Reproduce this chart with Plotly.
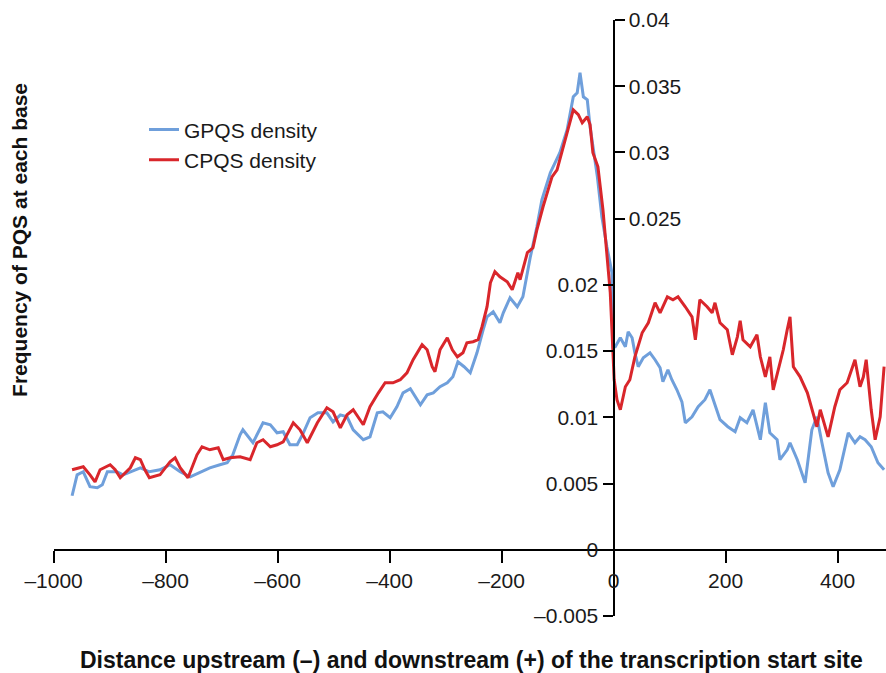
import plotly.graph_objects as go

# GPQS density profile around the transcription start site (bp, frequency)
gpqs_pos = [-967, -958, -947, -935, -922, -913, -904, -887, -876, -863, -845, -829, -810, -792,
            -774, -756, -738, -721, -703, -690, -680, -667, -662, -644, -626, -613, -601, -590,
            -578, -565, -554, -542, -528, -512, -501, -488, -476, -465, -447, -435, -422, -412,
            -399, -387, -376, -363, -345, -333, -322, -310, -297, -287, -278, -267, -256, -244,
            -233, -226, -215, -203, -197, -185, -172, -162, -149, -137, -128, -113, -96, -83,
            -72, -65, -60, -54, -47, -42, -29, -21, -12, -3, -1,
            3, 12, 21, 26, 33, 38, 44, 53, 65, 74, 83, 88, 97, 104, 113, 122, 128, 140, 151,
            163, 172, 181, 190, 204, 217, 226, 238, 249, 262, 271, 279, 292, 297, 310, 315,
            328, 342, 354, 363, 372, 383, 392, 404, 419, 431, 440, 449, 460, 472, 483]
gpqs_freq = [0.00408, 0.00566, 0.00589, 0.00476, 0.00468, 0.00491, 0.00589, 0.00589, 0.00566,
             0.00589, 0.00619, 0.00589, 0.00604, 0.00642, 0.00589, 0.00551, 0.00589, 0.00619,
             0.00642, 0.00657, 0.00717, 0.00868, 0.00906, 0.00808, 0.00959, 0.00944, 0.00883,
             0.00891, 0.00793, 0.00793, 0.00883, 0.00997, 0.01034, 0.01034, 0.00966, 0.01019,
             0.01004, 0.00906, 0.00831, 0.00853, 0.01034, 0.01042, 0.00997, 0.01080, 0.01185,
             0.01216, 0.01095, 0.01170, 0.01185, 0.01231, 0.01261, 0.01306, 0.01419, 0.01382,
             0.01336, 0.01487, 0.01661, 0.01759, 0.01797, 0.01714, 0.01789, 0.01903, 0.01835,
             0.01910, 0.02205, 0.02439, 0.02643, 0.02847, 0.02998, 0.03171, 0.03420, 0.03451,
             0.03602, 0.03420, 0.03398, 0.03194, 0.02816, 0.02514, 0.02288, 0.02092, 0.01533,
             0.01533, 0.01601, 0.01533, 0.01646, 0.01601, 0.01487, 0.01382, 0.01450, 0.01487,
             0.01435, 0.01374, 0.01269, 0.01359, 0.01284, 0.01208, 0.01117, 0.00959, 0.01004,
             0.01080, 0.01133, 0.01208, 0.01095, 0.00982, 0.00929, 0.00891, 0.00997, 0.00959,
             0.01057, 0.00831, 0.01110, 0.00883, 0.00831, 0.00680, 0.00755, 0.00808, 0.00680,
             0.00506, 0.00906, 0.01004, 0.00808, 0.00581, 0.00476, 0.00604, 0.00883, 0.00808,
             0.00853, 0.00831, 0.00778, 0.00657, 0.00604]

# CPQS density profile around the transcription start site (bp, frequency)
cpqs_pos = [-967, -947, -935, -926, -917, -899, -890, -881, -863, -854, -845, -837, -829, -810,
            -792, -783, -774, -760, -744, -735, -721, -706, -697, -685, -667, -649, -637, -626,
            -613, -601, -590, -572, -560, -547, -529, -512, -501, -488, -476, -465, -447, -435,
            -420, -408, -394, -381, -369, -358, -342, -333, -324, -319, -310, -297, -288, -279,
            -269, -262, -251, -242, -235, -226, -220, -212, -203, -190, -181, -171, -167, -154,
            -144, -137, -126, -110, -101, -90, -78, -72, -63, -56, -47, -42, -37, -28, -19, -12,
            -6, -3,
            1, 6, 12, 21, 29, 38, 51, 62, 74, 83, 96, 106, 115, 128, 140, 146, 154, 167, 176,
            181, 190, 203, 212, 221, 226, 231, 244, 256, 262, 271, 279, 285, 294, 303, 310, 315,
            321, 333, 346, 354, 363, 369, 378, 383, 395, 404, 417, 431, 440, 446, 451, 460, 467,
            476, 483]
cpqs_freq = [0.00604, 0.00627, 0.00566, 0.00513, 0.00604, 0.00642, 0.00604, 0.00544, 0.00619,
             0.00695, 0.00680, 0.00604, 0.00544, 0.00566, 0.00665, 0.00695, 0.00619, 0.00544,
             0.00717, 0.00778, 0.00755, 0.00770, 0.00680, 0.00695, 0.00702, 0.00680, 0.00808,
             0.00831, 0.00778, 0.00793, 0.00815, 0.00959, 0.00906, 0.00808, 0.00959, 0.01072,
             0.01042, 0.00921, 0.01019, 0.01057, 0.00944, 0.01080, 0.01185, 0.01261, 0.01261,
             0.01284, 0.01336, 0.01435, 0.01548, 0.01510, 0.01382, 0.01344, 0.01510, 0.01601,
             0.01510, 0.01457, 0.01487, 0.01563, 0.01571, 0.01586, 0.01684, 0.01835, 0.02016,
             0.02099, 0.02061, 0.02024, 0.01963, 0.02092, 0.02039, 0.02243, 0.02280, 0.02416,
             0.02590, 0.02816, 0.02869, 0.03043, 0.03247, 0.03322, 0.03285, 0.03224, 0.03269,
             0.03209, 0.02998, 0.02892, 0.02567, 0.02243, 0.01941, 0.01661,
             0.01284, 0.01133, 0.01057, 0.01231, 0.01284, 0.01457, 0.01638, 0.01714, 0.01865,
             0.01789, 0.01910, 0.01888, 0.01910, 0.01835, 0.01759, 0.01586, 0.01888, 0.01835,
             0.01789, 0.01865, 0.01714, 0.01661, 0.01472, 0.01608, 0.01729, 0.01586, 0.01533,
             0.01623, 0.01457, 0.01306, 0.01457, 0.01208, 0.01359, 0.01510, 0.01661, 0.01759,
             0.01382, 0.01306, 0.01185, 0.01057, 0.00929, 0.01057, 0.00929, 0.00853, 0.01080,
             0.01208, 0.01261, 0.01435, 0.01231, 0.01306, 0.01435, 0.01057, 0.00831, 0.01004,
             0.01382]

# Axis ticks
x_ticks = [-1000, -800, -600, -400, -200, 0, 200, 400]
x_tick_text = ["\u20131000", "\u2013800", "\u2013600", "\u2013400", "\u2013200", "0", "200", "400"]
y_low_ticks = [-0.005, 0, 0.005, 0.01, 0.015, 0.02]
y_low_text = ["\u20130.005", "0", "0.005", "0.01", "0.015", "0.02"]
y_high_ticks = [0.025, 0.03, 0.035, 0.04]
y_high_text = ["0.025", "0.03", "0.035", "0.04"]

W, H = 886, 673
FONT = "Liberation Sans, Arial, sans-serif"
BLUE = "#6f9fdb"
RED = "#d9262b"

x_range = [-1000, 486.4]
y_range = [-0.005, 0.04]
x_left_px = 53.6          # pixel position of x = -1000
y_axis_px = 613.5         # pixel position of x = 0 (where the y axis sits)

fig = go.Figure()
fig.add_trace(go.Scatter(x=gpqs_pos, y=gpqs_freq, mode="lines", name="GPQS density",
                         legendgroup="g", line=dict(color=BLUE, width=3)))
# CPQS is drawn on the overlaid axis that carries the upper tick labels (same range)
fig.add_trace(go.Scatter(x=cpqs_pos, y=cpqs_freq, mode="lines", name="CPQS density",
                         legendgroup="c", yaxis="y2", line=dict(color=RED, width=3)))

axis_common = dict(showgrid=False, zeroline=False, showline=True, linecolor="black",
                   linewidth=2, ticks="outside", tickcolor="black", tickwidth=2,
                   tickfont=dict(family=FONT, size=21, color="#1a1a1a"))

fig.update_layout(
    width=W, height=H,
    margin=dict(l=0, r=0, t=20, b=57, autoexpand=False),
    paper_bgcolor="white", plot_bgcolor="white",
    xaxis=dict(domain=[x_left_px / W, 1], range=x_range, anchor="free",
               position=(0 - y_range[0]) / (y_range[1] - y_range[0]),
               tickvals=x_ticks, ticktext=x_tick_text, ticklen=12,
               automargin=False, **axis_common),
    yaxis=dict(domain=[0, 1], range=y_range, anchor="free", position=y_axis_px / W,
               side="left", tickvals=y_low_ticks, ticktext=y_low_text, ticklen=10,
               automargin=False, **axis_common),
    yaxis2=dict(domain=[0, 1], range=y_range, anchor="free", position=y_axis_px / W,
                overlaying="y", side="right", tickvals=y_high_ticks, ticktext=y_high_text,
                ticklen=10, automargin=False, **axis_common),
    legend=dict(x=144 / W, y=0.850, xanchor="left", yanchor="top",
                bgcolor="rgba(0,0,0,0)", tracegroupgap=0,
                font=dict(family=FONT, size=21, color="#1a1a1a")),
    showlegend=True,
)

fig.add_annotation(text="<b>Distance upstream (\u2013) and downstream (+) of the transcription start site</b>",
                   xref="paper", yref="paper", x=472 / W, y=-0.074, showarrow=False,
                   xanchor="center", yanchor="middle",
                   font=dict(family=FONT, size=23, color="#111111"))
fig.add_annotation(text="<b>Frequency of PQS at each base</b>",
                   xref="paper", yref="paper", x=20 / W, y=0.631, showarrow=False,
                   textangle=-90, xanchor="center", yanchor="middle",
                   font=dict(family=FONT, size=21, color="#111111"))

fig.write_html("out.html")
